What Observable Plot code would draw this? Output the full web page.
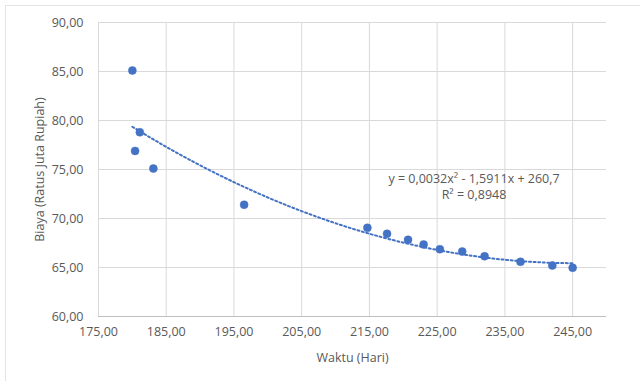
<!DOCTYPE html>
<html>
<head>
<meta charset="utf-8">
<script src="https://cdn.jsdelivr.net/npm/d3@7"></script>
<script src="https://cdn.jsdelivr.net/npm/@observablehq/plot@0.6"></script>
<style>
  html, body { margin: 0; padding: 0; background: #fff; overflow: hidden; }
  #wrap { position: relative; width: 640px; height: 381px; }
  #frame { position: absolute; left: 5px; top: 5px; width: 700px; height: 420px; border: 1px solid #e3e3e3; box-sizing: border-box; pointer-events: none; }
  svg { font-family: "Open Sans", sans-serif; }
</style>
</head>
<body>
<div id="wrap"><div id="frame"></div></div>
<script>
const waktu = [180.0, 180.4, 181.1, 183.1, 196.5, 214.7, 217.6, 220.7, 223.0, 225.4, 228.7, 232.0, 237.3, 242.0, 245.0];
const biaya = [85.1, 76.9, 78.8, 75.1, 71.4, 69.05, 68.44, 67.83, 67.35, 66.87, 66.63, 66.15, 65.58, 65.2, 64.97];
const xTicks = [175, 185, 195, 205, 215, 225, 235, 245];
const yTicks = [60, 65, 70, 75, 80, 85, 90];
const equationText = "y = 0,0032x² - 1,5911x + 260,7";
const r2Text = "R² = 0,8948";

const points = waktu.map((x, i) => ({x, y: biaya[i]}));

// quadratic least-squares fit (polynomial trendline, order 2)
function quadFit(xs, ys) {
  let S = Array(5).fill(0), T = Array(3).fill(0);
  xs.forEach((x, i) => {
    for (let k = 0; k < 5; k++) S[k] += Math.pow(x, k);
    for (let k = 0; k < 3; k++) T[k] += Math.pow(x, k) * ys[i];
  });
  const A = [[S[0], S[1], S[2], T[0]], [S[1], S[2], S[3], T[1]], [S[2], S[3], S[4], T[2]]];
  for (let i = 0; i < 3; i++) {
    let p = i;
    for (let r = i + 1; r < 3; r++) if (Math.abs(A[r][i]) > Math.abs(A[p][i])) p = r;
    [A[i], A[p]] = [A[p], A[i]];
    for (let r = 0; r < 3; r++) if (r !== i) {
      const f = A[r][i] / A[i][i];
      for (let c = i; c < 4; c++) A[r][c] -= f * A[i][c];
    }
  }
  return [A[0][3] / A[0][0], A[1][3] / A[1][1], A[2][3] / A[2][2]];
}
const [c0, c1, c2] = quadFit(waktu, biaya);
const xmin = d3.min(waktu), xmax = d3.max(waktu);
const trend = d3.range(0, 101).map(i => {
  const x = xmin + (xmax - xmin) * i / 100;
  return {x, y: c0 + c1 * x + c2 * x * x};
});

const fmt = d => d.toFixed(2).replace(".", ",");
const blue = "#4472C4";
const textColor = "#595959";

const chart = Plot.plot({
  width: 640,
  height: 381,
  marginLeft: 98,
  marginRight: 34,
  marginTop: 22,
  marginBottom: 65,
  style: {fontSize: "12.5px", color: textColor, background: "transparent", fontFamily: "'Open Sans', sans-serif"},
  x: {domain: [175, 250], ticks: xTicks, tickFormat: fmt},
  y: {domain: [60, 90], ticks: yTicks, tickFormat: fmt},
  marks: [
    Plot.gridX(xTicks, {stroke: "#d9d9d9", strokeOpacity: 1, strokeWidth: 1}),
    Plot.gridY(yTicks, {stroke: "#d9d9d9", strokeOpacity: 1, strokeWidth: 1}),
    Plot.ruleY([60], {stroke: "#bfbfbf", strokeWidth: 1}),
    Plot.axisX({ticks: xTicks, tickFormat: fmt, tickSize: 0, tickPadding: 11, label: "Waktu (Hari)", labelAnchor: "center", labelArrow: "none", labelOffset: 45, fill: textColor}),
    Plot.axisY({ticks: yTicks, tickFormat: fmt, tickSize: 0, tickPadding: 15, label: "Biaya (Ratus Juta Rupiah)", labelAnchor: "center", labelArrow: "none", labelOffset: 63, fill: textColor}),
    Plot.line(trend, {x: "x", y: "y", stroke: blue, strokeWidth: 2, strokeDasharray: "2,2.6"}),
    Plot.dot(points, {x: "x", y: "y", r: 4, fill: blue, stroke: blue, strokeWidth: 0.5}),
    Plot.text([equationText + "\n" + r2Text], {frameAnchor: "top-left", dx: 375.5, dy: 163, text: d => d, textAnchor: "middle", lineAnchor: "middle", lineHeight: 1.3, fill: textColor, fontSize: 12.5})
  ]
});
document.getElementById("wrap").prepend(chart);
</script>
</body>
</html>
